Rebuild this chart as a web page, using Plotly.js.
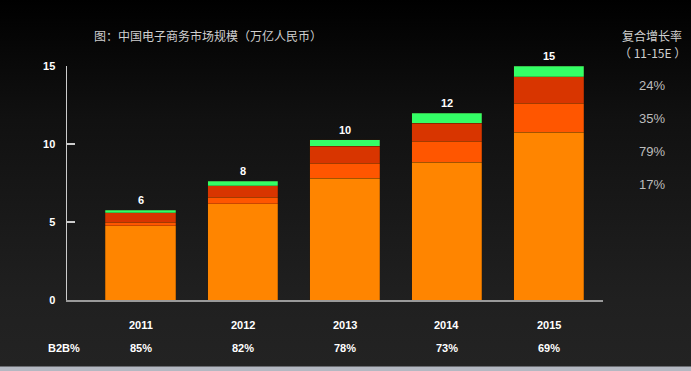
<!DOCTYPE html>
<html>
<head>
<meta charset="utf-8">
<script src="https://cdn.plot.ly/plotly-3.0.1.min.js"></script>
<style>
html,body{margin:0;padding:0;background:#000;}
#chart{width:691px;height:371px;background:linear-gradient(to bottom,#000000 0px,#111111 120px,#202020 300px,#232323 366px,#b4b8c2 367px,#b4b8c2 371px);}
</style>
</head>
<body>
<div id="chart"></div>
<script>
// Data (万亿人民币)
var years = ['2011', '2012', '2013', '2014', '2015'];
var seg1 = [4.77, 6.16, 7.82, 8.84, 10.76];   // bottom (B2B)
var seg2 = [0.23, 0.44, 0.94, 1.35, 1.86];
var seg3 = [0.58, 0.71, 1.11, 1.15, 1.70];
var seg4 = [0.17, 0.30, 0.40, 0.62, 0.68];    // top
var totalLabels = ['6', '8', '10', '12', '15'];
var b2bShare = ['85%', '82%', '78%', '73%', '69%'];
var cagrLabels = ['24%', '35%', '79%', '17%'];
var titleText = '图：中国电子商务市场规模（万亿人民币）';
var cagrTitle = '复合增长率';
var cagrPeriod = '（ 11-15E ）';
var rowLabel = 'B2B%';

var segs = [seg1, seg2, seg3, seg4];
var colors = ['#FF8500', '#FF5600', '#D83500', '#33FF66'];

var traces = segs.map(function (s, i) {
  return {
    type: 'bar', x: years, y: s,
    marker: {color: colors[i], line: {color: 'rgba(60,30,0,0.45)', width: 0.6}},
    hoverinfo: 'none', showlegend: false
  };
});

var totals = years.map(function (y, i) {
  return seg1[i] + seg2[i] + seg3[i] + seg4[i];
});

var CJK = '"Noto Sans CJK SC", "Liberation Sans", sans-serif';
var SANS = '"Liberation Sans", Arial, sans-serif';

function px(xp) { return (xp - 67) / 536; }
function py(yp) { return (300.3 - yp) / 234.6; }

var annotations = [];
years.forEach(function (y, i) {
  annotations.push({x: i, y: totals[i], xref: 'x', yref: 'y', text: '<b>' + totalLabels[i] + '</b>',
    showarrow: false, yanchor: 'bottom', yshift: 2, font: {family: SANS, size: 11, color: '#ffffff'}});
  annotations.push({x: i, y: py(325.7), xref: 'x', yref: 'paper', text: '<b>' + y + '</b>',
    showarrow: false, yanchor: 'middle', font: {family: SANS, size: 11, color: '#ffffff'}});
  annotations.push({x: i, y: py(348.3), xref: 'x', yref: 'paper', text: '<b>' + b2bShare[i] + '</b>',
    showarrow: false, yanchor: 'middle', font: {family: SANS, size: 11, color: '#ffffff'}});
});
annotations.push({x: px(46), y: py(348.3), xref: 'paper', yref: 'paper', text: '<b>' + rowLabel + '</b>',
  showarrow: false, yanchor: 'middle', font: {family: SANS, size: 11, color: '#ffffff'}});
annotations.push({x: px(92), y: py(35), xref: 'paper', yref: 'paper', xanchor: 'left', yanchor: 'middle',
  text: titleText, showarrow: false, font: {family: CJK, size: 12, color: '#cfcfcf'}});
annotations.push({x: px(652), y: py(35), xref: 'paper', yref: 'paper', xanchor: 'center', yanchor: 'middle',
  text: cagrTitle, showarrow: false, font: {family: CJK, size: 12, color: '#cfcfcf'}});
annotations.push({x: px(652), y: py(52), xref: 'paper', yref: 'paper', xanchor: 'center', yanchor: 'middle',
  text: cagrPeriod, showarrow: false, font: {family: CJK, size: 12, color: '#cfcfcf'}});
var cagrY = [85, 118.3, 151.7, 185];
cagrLabels.forEach(function (t, i) {
  annotations.push({x: px(652), y: py(cagrY[i]), xref: 'paper', yref: 'paper', xanchor: 'center', yanchor: 'middle',
    text: t, showarrow: false, font: {family: SANS, size: 13, color: '#bdbdbd'}});
});

var layout = {
  width: 691, height: 371,
  margin: {l: 67, r: 88, t: 66, b: 71, pad: 0},
  paper_bgcolor: 'rgba(0,0,0,0)', plot_bgcolor: 'rgba(0,0,0,0)',
  barmode: 'stack', bargap: 0.314,
  xaxis: {type: 'category', range: [-0.72, 4.53], showticklabels: false, ticks: '',
    showline: true, linecolor: '#9a9a9a', linewidth: 2, showgrid: false, zeroline: false, fixedrange: true},
  yaxis: {range: [0, 15], tickvals: [0, 5, 10, 15], ticks: 'inside', ticklen: 8, tickwidth: 1.5,
    tickcolor: '#cccccc', showline: true, linecolor: '#cccccc', linewidth: 1.5, showgrid: false,
    zeroline: false, ticklabelstandoff: 8,
    tickfont: {family: SANS, size: 11, color: '#ffffff', weight: 'bold'}, fixedrange: true},
  annotations: annotations,
  font: {family: SANS}
};

Plotly.newPlot('chart', traces, layout, {displayModeBar: false, staticPlot: true});
</script>
</body>
</html>
